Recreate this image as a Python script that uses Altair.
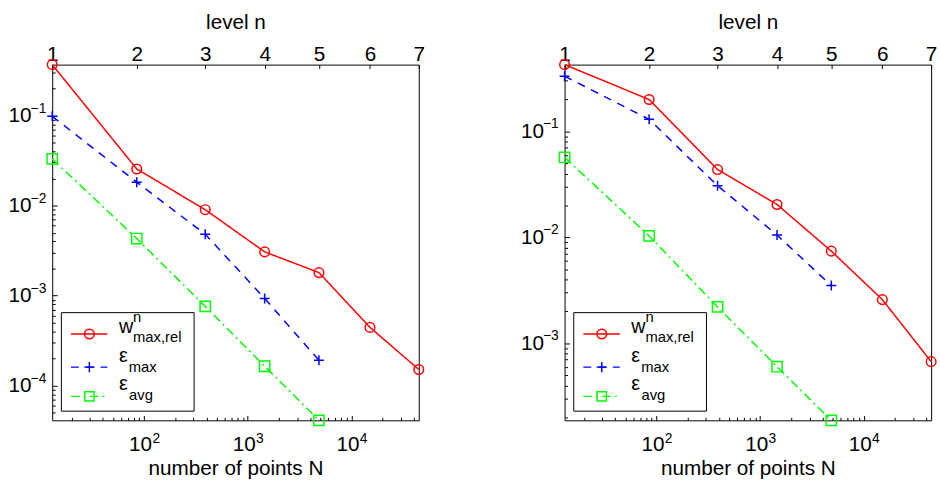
import json
import altair as alt
import pandas as pd

# ---------------- data ----------------
N_points = [13, 85, 389, 1457, 4865, 15121, 44689]
level_labels = ["1", "2", "3", "4", "5", "6", "7"]

series_keys = ["w", "emax", "eavg"]
series_colors = ["#ff0000", "#0000ff", "#00ff00"]
series_dash = [[1, 0], [8, 7], [9, 4, 2, 4]]
series_shapes = ["circle", "M-1,0L1,0M0,-1L0,1", "square"]
series_sizes = [95, 110, 90]

legend_main = ["w", "ε", "ε"]
legend_sub = ["max,rel", "max", "avg"]
legend_sup = ["n", "", ""]

# left panel
w_left = [0.368, 0.0255, 0.0090, 0.00306, 0.00180, 0.000443, 0.000151]
emax_left = [0.098, 0.0182, 0.0048, 0.00093, 0.000191]
eavg_left = [0.0330, 0.00430, 0.000758, 0.000164, 0.0000411]

# right panel
w_right = [0.427, 0.200, 0.0436, 0.0204, 0.0074, 0.00258, 0.00067]
emax_right = [0.332, 0.130, 0.0307, 0.0105, 0.0035]
eavg_right = [0.0569, 0.0103, 0.0022, 0.00060, 0.000187]

x_major = [100, 1000, 10000]
x_major_base = ["10", "10", "10"]
x_major_exp = ["2", "3", "4"]
y_major_left = [0.0001, 0.001, 0.01, 0.1]
y_major_left_base = ["10", "10", "10", "10"]
y_major_left_exp = ["\u22124", "\u22123", "\u22122", "\u22121"]
y_major_right = [0.001, 0.01, 0.1]
y_major_right_base = ["10", "10", "10"]
y_major_right_exp = ["\u22123", "\u22122", "\u22121"]

# ---------------- helpers ----------------
H = 361
FONT = "Liberation Sans"
FS = 21
FS_EXP = 14


def label_expr(values, labels):
    labs = ",".join("'" + s + "'" for s in labels)
    vals = ",".join(json.dumps(v) for v in values)
    return "[" + labs + "][indexof([" + vals + "], datum.value)]"


def minor_ticks(lo, hi, kmin, kmax):
    out = []
    for k in range(kmin, kmax + 1):
        for m in range(2, 10):
            v = m * (10.0 ** k)
            if lo <= v <= hi:
                out.append(v)
    return out


def make_df(w, emax, eavg):
    rows = []
    for key, vals in zip(series_keys, [w, emax, eavg]):
        for i, v in enumerate(vals):
            rows.append({"N": N_points[i], "level": i + 1, "series": key, "value": v})
    return pd.DataFrame(rows)


def legend_layers():
    one = pd.DataFrame([{"k": 0}])
    layers = []
    layers.append(
        alt.Chart(one).mark_rect(fill="white", stroke="black", strokeWidth=1).encode(
            x=alt.value(9.3), x2=alt.value(144), y=alt.value(251.7), y2=alt.value(351.7)
        )
    )
    row_y = [273.4, 307.0, 336.7]
    main_base = [272.7, 301.7, 330.7]
    sub_base = [281.7, 311.7, 340.5]
    sub_x = [82, 77.7, 78]
    for i in range(3):
        layers.append(
            alt.Chart(one).mark_rule(color=series_colors[i], strokeWidth=1.5,
                                     strokeDash=series_dash[i]).encode(
                x=alt.value(19), x2=alt.value(56), y=alt.value(row_y[i])
            )
        )
        layers.append(
            alt.Chart(one).mark_point(shape=series_shapes[i], size=series_sizes[i],
                                      filled=False, color=series_colors[i],
                                      strokeWidth=1.5, opacity=1).encode(
                x=alt.value(37.7), y=alt.value(row_y[i])
            )
        )
        layers.append(
            alt.Chart(one).mark_text(text=legend_main[i], font=FONT, fontSize=20,
                                     align="left", baseline="alphabetic", color="black").encode(
                x=alt.value(67.7), y=alt.value(main_base[i])
            )
        )
        layers.append(
            alt.Chart(one).mark_text(text=legend_sub[i], font=FONT, fontSize=15,
                                     align="left", baseline="alphabetic", color="black").encode(
                x=alt.value(sub_x[i]), y=alt.value(sub_base[i])
            )
        )
        if legend_sup[i]:
            layers.append(
                alt.Chart(one).mark_text(text=legend_sup[i], font=FONT, fontSize=15,
                                         align="left", baseline="alphabetic", color="black").encode(
                    x=alt.value(82), y=alt.value(261.7)
                )
            )
    return layers


def panel(df, W, y_major, y_base, y_exp):
    ymin, ymax = float(df.value.min()), float(df.value.max())
    xs = alt.Scale(type="log", domain=[N_points[0], N_points[-1]], nice=False)
    ys = alt.Scale(type="log", domain=[ymin, ymax], nice=False)
    x_minor = minor_ticks(N_points[0], N_points[-1], 1, 4)
    y_minor = minor_ticks(ymin, ymax, -6, 0)

    common = dict(domain=False, grid=False, tickColor="black", tickWidth=1)
    base = alt.Chart(df)
    color = alt.Color("series:N", scale=alt.Scale(domain=series_keys, range=series_colors), legend=None)

    # data lines; bottom "10" labels + title; left "10" labels
    lines = base.mark_line(strokeWidth=1.5).encode(
        x=alt.X("N:Q", scale=xs, axis=alt.Axis(
            orient="bottom", values=x_major, labelExpr=label_expr(x_major, x_major_base),
            ticks=False, tickSize=0, labelPadding=31, labelBaseline="alphabetic",
            labelAlign="center", labelOffset=-4, labelFontSize=FS,
            title="number of points N", titleBaseline="alphabetic", titleY=54.5,
            labelFlush=False, **common)),
        y=alt.Y("value:Q", scale=ys, axis=alt.Axis(
            orient="left", values=y_major, labelExpr=label_expr(y_major, y_base),
            ticks=False, tickSize=0, labelPadding=21.5, labelAlign="right",
            labelBaseline="middle", labelFontSize=FS, title=None, **common)),
        color=color,
        strokeDash=alt.StrokeDash("series:N", scale=alt.Scale(domain=series_keys, range=series_dash), legend=None),
    )

    # markers; inward minor ticks bottom and left
    points = base.mark_point(filled=False, strokeWidth=1.5, opacity=1).encode(
        x=alt.X("N:Q", scale=xs, axis=alt.Axis(
            orient="top", offset=-H, values=x_minor, labels=False, tickSize=3, title=None, **common)),
        y=alt.Y("value:Q", scale=ys, axis=alt.Axis(
            orient="right", offset=-W, values=y_minor, labels=False, tickSize=3, title=None, **common)),
        color=color,
        shape=alt.Shape("series:N", scale=alt.Scale(domain=series_keys, range=series_shapes), legend=None),
        size=alt.Size("series:N", scale=alt.Scale(domain=series_keys, range=series_sizes), legend=None),
    )

    # top level labels + title; inward major ticks left
    top_labels = base.mark_point(opacity=0).encode(
        x=alt.X("N:Q", scale=xs, axis=alt.Axis(
            orient="top", values=N_points, labelExpr=label_expr(N_points, level_labels),
            ticks=False, tickSize=0, labelPadding=4.6, labelBaseline="alphabetic",
            labelFontSize=FS, title="level n", titleBaseline="alphabetic", titleY=-36.3,
            labelFlush=False, **common)),
        y=alt.Y("value:Q", scale=ys, axis=alt.Axis(
            orient="right", offset=-W, values=y_major, labels=False, tickSize=5, title=None, **common)),
    )

    # inward ticks on top at levels; left exponents
    top_ticks = base.mark_point(opacity=0).encode(
        x=alt.X("N:Q", scale=xs, axis=alt.Axis(
            orient="bottom", offset=-H, values=N_points, labels=False, tickSize=4, title=None, **common)),
        y=alt.Y("value:Q", scale=ys, axis=alt.Axis(
            orient="left", values=y_major, labelExpr=label_expr(y_major, y_exp),
            ticks=False, tickSize=0, labelPadding=6.5, labelAlign="right",
            labelBaseline="middle", labelOffset=-7.5, labelFontSize=FS_EXP, title=None, **common)),
    )

    # inward major ticks bottom
    bottom_major = base.mark_point(opacity=0).encode(
        x=alt.X("N:Q", scale=xs, axis=alt.Axis(
            orient="top", offset=-H, values=x_major, labels=False, tickSize=5, title=None, **common)),
        y=alt.Y("value:Q", scale=ys, axis=None),
    )

    # bottom exponents
    bottom_exp = base.mark_point(opacity=0).encode(
        x=alt.X("N:Q", scale=xs, axis=alt.Axis(
            orient="bottom", values=x_major, labelExpr=label_expr(x_major, x_major_exp),
            ticks=False, tickSize=0, labelPadding=22.7, labelBaseline="alphabetic",
            labelAlign="left", labelOffset=8, labelFontSize=FS_EXP, title=None,
            labelFlush=False, **common)),
        y=alt.Y("value:Q", scale=ys, axis=None),
    )

    layered = alt.layer(lines, points, top_labels, top_ticks, bottom_major, bottom_exp,
                        *legend_layers())
    return layered.resolve_scale(x="shared", y="shared").resolve_axis(
        x="independent", y="independent").properties(width=W, height=H)


left = panel(make_df(w_left, emax_left, eavg_left), 372,
             y_major_left, y_major_left_base, y_major_left_exp)
right = panel(make_df(w_right, emax_right, eavg_right), 372,
              y_major_right, y_major_right_base, y_major_right_exp)

chart = alt.hconcat(left, right, spacing=93).properties(
    padding={"left": 7, "top": 8, "right": 0, "bottom": 0}
).configure(font=FONT).configure_axis(
    labelFont=FONT, titleFont=FONT, labelFontSize=FS, titleFontSize=FS,
    labelColor="black", titleColor="black", titleFontWeight="normal", grid=False
).configure_view(stroke="black", strokeWidth=1)

chart.save("out.html", embed_options={"renderer": "svg", "actions": False})
